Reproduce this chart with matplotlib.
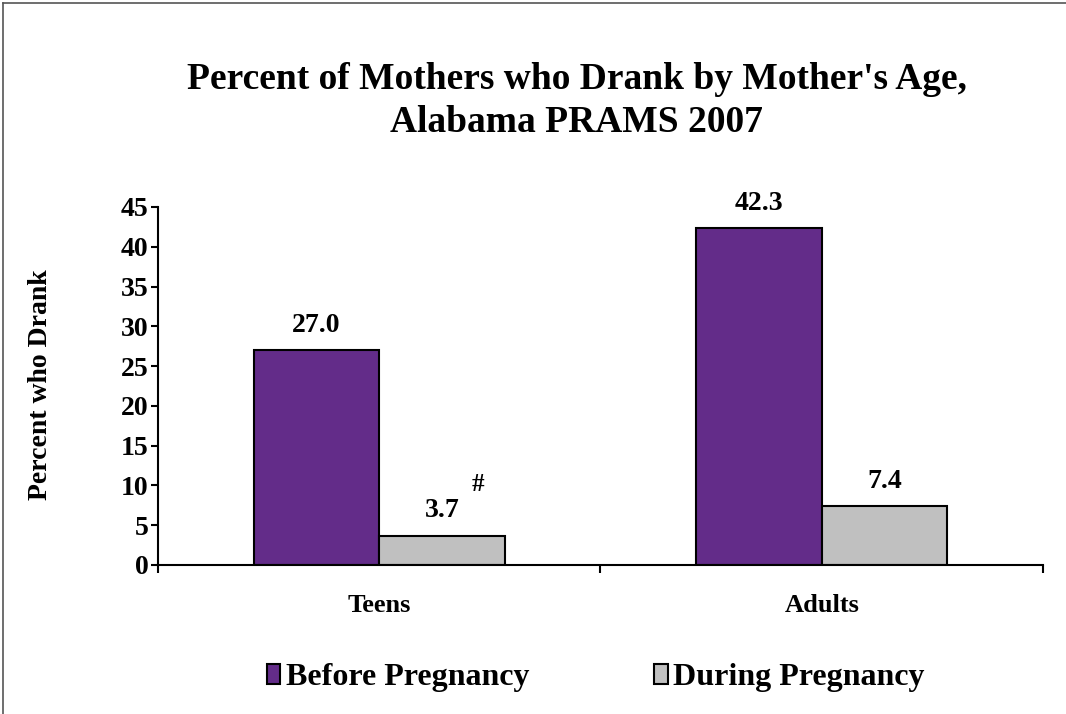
import matplotlib
matplotlib.use("Agg")
import matplotlib.pyplot as plt
import numpy as np
from matplotlib.lines import Line2D
from matplotlib.patches import Patch

categories = ["Teens", "Adults"]
before = [27.0, 42.3]
during = [3.7, 7.4]
series_names = ["Before Pregnancy", "During Pregnancy"]
colors = ["#632C89", "#C0C0C0"]

plt.rcParams['font.family'] = ['Liberation Serif', 'DejaVu Serif']
plt.rcParams['font.weight'] = 'bold'

fig = plt.figure(figsize=(10.66, 7.14), dpi=100)
ax = fig.add_axes([0.1482, 0.2087, 0.8302, 0.5014])

x = np.arange(len(categories))
w = 0.284
ax.bar(x - w/2, before, w, color=colors[0], edgecolor='black', linewidth=1.5, label=series_names[0])
ax.bar(x + w/2, during, w, color=colors[1], edgecolor='black', linewidth=1.5, label=series_names[1])

ax.set_xlim(-0.5, 1.5)
ax.set_ylim(0, 45)
ax.set_yticks(np.arange(0, 46, 5))
ax.set_xticks([-0.5, 0.5, 1.5])
ax.set_xticklabels([])
ax.tick_params(axis='x', direction='out', length=6, width=1.5)
ax.tick_params(axis='y', direction='out', length=5, width=1.5, labelsize=20, pad=2)
for t in ax.get_yticklabels():
    t.set_fontweight('bold')
ax.spines['top'].set_visible(False)
ax.spines['right'].set_visible(False)
ax.spines['left'].set_linewidth(1.5)
ax.spines['bottom'].set_linewidth(1.5)

for i, c in enumerate(categories):
    ax.annotate(c, (x[i], 0), xytext=(0, -29), textcoords='offset points',
                ha='center', va='center', fontsize=19, fontweight='bold')

for i in range(len(categories)):
    ax.annotate(f"{before[i]:.1f}", (x[i] - w/2, before[i]), xytext=(0, 13), textcoords='offset points',
                ha='center', va='baseline', fontsize=20, fontweight='bold')
    ax.annotate(f"{during[i]:.1f}", (x[i] + w/2, during[i]), xytext=(0, 13), textcoords='offset points',
                ha='center', va='baseline', fontsize=20, fontweight='bold')
ax.annotate("#", (x[0] + w/2, during[0]), xytext=(26, 37), textcoords='offset points',
            ha='center', va='center', fontsize=18, fontweight='bold')

fig.text(41/1066, 1 - 385/714, "Percent who Drank", rotation=90, ha='center', va='center',
         fontsize=20, fontweight='bold')

fig.text(0.541, 0.858, "Percent of Mothers who Drank by Mother's Age,\nAlabama PRAMS 2007",
         ha='center', va='center', fontsize=27, fontweight='bold', linespacing=1.3)

handles = [Patch(facecolor=colors[0], edgecolor='black', linewidth=1.5),
           Patch(facecolor=colors[1], edgecolor='black', linewidth=1.5)]
fig.legend(handles, series_names, loc='center', bbox_to_anchor=(0.559, 0.051), ncol=2,
           frameon=False, prop={'size': 23, 'weight': 'bold'}, handlelength=0.42, handleheight=0.6,
           handletextpad=0.18, columnspacing=3.9, borderpad=0.2)

fig.add_artist(Line2D([0.003, 0.003], [0, 0.996], transform=fig.transFigure, color='#555555', linewidth=1.2))
fig.add_artist(Line2D([0.003, 1.0], [0.996, 0.996], transform=fig.transFigure, color='#555555', linewidth=1.2))

fig.savefig("out.png", dpi=100)
